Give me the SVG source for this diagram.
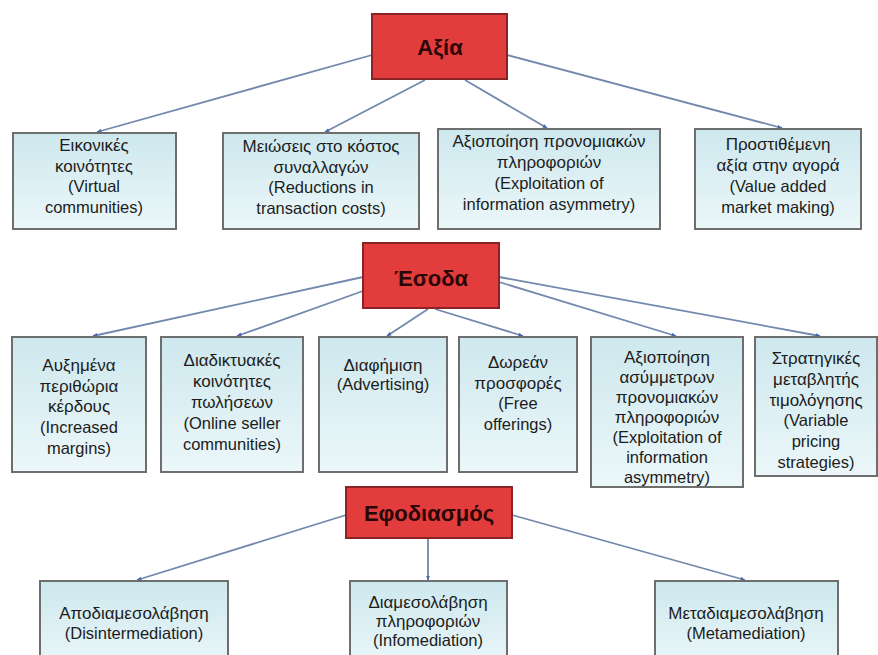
<svg xmlns="http://www.w3.org/2000/svg" width="878" height="655" viewBox="0 0 878 655">
<defs>
<linearGradient id="bg" x1="0" y1="0" x2="0" y2="1">
<stop offset="0" stop-color="#cde8ee"/>
<stop offset="1" stop-color="#ecf7f9"/>
</linearGradient>
<marker id="ar" viewBox="0 0 10 10" refX="9" refY="5" markerWidth="5" markerHeight="5" orient="auto" markerUnits="userSpaceOnUse">
<path d="M0,1 L10,5 L0,9 z" fill="#4a67a8"/>
</marker>
</defs>
<style>
.box{fill:url(#bg);stroke:#6e6e6e;stroke-width:2}
.red{fill:#e23c3c;stroke:#8a2424;stroke-width:2}
.t{font-family:"Liberation Sans",Arial,sans-serif;font-size:16.5px;fill:#1c1c1c;text-anchor:middle}
.g{font-size:17px}
.h{font-family:"Liberation Sans",Arial,sans-serif;font-size:22px;font-weight:bold;fill:#2a0606;text-anchor:middle}
.c{stroke:#7388ad;stroke-width:1.8;fill:none;marker-end:url(#ar)}
</style>
<rect width="878" height="655" fill="#ffffff"/>
<g id="connectors">
<line class="c" x1="372" y1="55" x2="97" y2="132"/>
<line class="c" x1="425" y1="80" x2="325" y2="132"/>
<line class="c" x1="465" y1="80" x2="547" y2="128"/>
<line class="c" x1="507" y1="55" x2="782" y2="128"/>
<line class="c" x1="363" y1="277" x2="93" y2="336"/>
<line class="c" x1="363" y1="291" x2="237" y2="336"/>
<line class="c" x1="428" y1="309" x2="387" y2="336"/>
<line class="c" x1="435" y1="309" x2="523" y2="336"/>
<line class="c" x1="499" y1="282" x2="676" y2="336"/>
<line class="c" x1="499" y1="277" x2="820" y2="336"/>
<line class="c" x1="346" y1="515" x2="137" y2="580"/>
<line class="c" x1="428" y1="539" x2="428" y2="580"/>
<line class="c" x1="512" y1="515" x2="745" y2="580"/>
</g>
<g id="axia"><rect class="red" x="372" y="14" width="135" height="65"/><text class="h" x="440" y="55">Αξία</text></g>
<g id="esoda"><rect class="red" x="363" y="243" width="136" height="65"/><text class="h" x="431" y="286">Έσοδα</text></g>
<g id="efodiasmos"><rect class="red" x="346" y="487" width="166" height="51"/><text class="h" x="429" y="521">Εφοδιασμός</text></g>

<g id="v1"><rect class="box" x="13" y="133" width="163" height="96"/>
<text class="t" x="94" y="151"><tspan class="g" x="94">Εικονικές</tspan><tspan class="g" x="94" dy="20.5">κοινότητες</tspan><tspan x="94" dy="20.5">(Virtual</tspan><tspan x="94" dy="20.5">communities)</tspan></text></g>
<g id="v2"><rect class="box" x="223" y="133" width="196" height="96"/>
<text class="t" x="321" y="152"><tspan class="g" x="321">Μειώσεις στο κόστος</tspan><tspan class="g" x="321" dy="20.5">συναλλαγών</tspan><tspan x="321" dy="20.5">(Reductions in</tspan><tspan x="321" dy="20.5">transaction costs)</tspan></text></g>
<g id="v3"><rect class="box" x="438" y="129" width="222" height="100"/>
<text class="t" x="549" y="147"><tspan class="g" x="549">Αξιοποίηση προνομιακών</tspan><tspan class="g" x="549" dy="21">πληροφοριών</tspan><tspan x="549" dy="21">(Exploitation of</tspan><tspan x="549" dy="21">information asymmetry)</tspan></text></g>
<g id="v4"><rect class="box" x="695" y="129" width="166" height="100"/>
<text class="t" x="778" y="150"><tspan class="g" x="778">Προστιθέμενη</tspan><tspan class="g" x="778" dy="21">αξία στην αγορά</tspan><tspan x="778" dy="21">(Value added</tspan><tspan x="778" dy="21">market making)</tspan></text></g>

<g id="r1"><rect class="box" x="12" y="337" width="134" height="135"/>
<text class="t" x="79" y="371"><tspan class="g" x="79">Αυξημένα</tspan><tspan class="g" x="79" dy="20.7">περιθώρια</tspan><tspan class="g" x="79" dy="20.7">κέρδους</tspan><tspan x="79" dy="20.7">(Increased</tspan><tspan x="79" dy="20.7">margins)</tspan></text></g>
<g id="r2"><rect class="box" x="161" y="337" width="142" height="135"/>
<text class="t" x="232" y="366"><tspan class="g" x="232">Διαδικτυακές</tspan><tspan class="g" x="232" dy="21">κοινότητες</tspan><tspan class="g" x="232" dy="21">πωλήσεων</tspan><tspan x="232" dy="21">(Online seller</tspan><tspan x="232" dy="21">communities)</tspan></text></g>
<g id="r3"><rect class="box" x="319" y="337" width="128" height="135"/>
<text class="t" x="383" y="371"><tspan class="g" x="383">Διαφήμιση</tspan><tspan x="383" dy="19">(Advertising)</tspan></text></g>
<g id="r4"><rect class="box" x="459" y="337" width="118" height="135"/>
<text class="t" x="518" y="368"><tspan class="g" x="518">Δωρεάν</tspan><tspan class="g" x="518" dy="20.7">προσφορές</tspan><tspan x="518" dy="20.7">(Free</tspan><tspan x="518" dy="20.7">offerings)</tspan></text></g>
<g id="r5"><rect class="box" x="591" y="337" width="152" height="150"/>
<text class="t" x="667" y="363"><tspan class="g" x="667">Αξιοποίηση</tspan><tspan class="g" x="667" dy="20">ασύμμετρων</tspan><tspan class="g" x="667" dy="20">προνομιακών</tspan><tspan class="g" x="667" dy="20">πληροφοριών</tspan><tspan x="667" dy="20">(Exploitation of</tspan><tspan x="667" dy="20">information</tspan><tspan x="667" dy="20">asymmetry)</tspan></text></g>
<g id="r6"><rect class="box" x="755" y="337" width="122" height="139"/>
<text class="t" x="816" y="364"><tspan class="g" x="816">Στρατηγικές</tspan><tspan class="g" x="816" dy="20.8">μεταβλητής</tspan><tspan class="g" x="816" dy="20.8">τιμολόγησης</tspan><tspan x="816" dy="20.8">(Variable</tspan><tspan x="816" dy="20.8">pricing</tspan><tspan x="816" dy="20.8">strategies)</tspan></text></g>

<g id="s1"><rect class="box" x="40" y="581" width="188" height="90"/>
<text class="t" x="134" y="619"><tspan class="g" x="134">Αποδιαμεσολάβηση</tspan><tspan x="134" dy="20">(Disintermediation)</tspan></text></g>
<g id="s2"><rect class="box" x="350" y="581" width="157" height="90"/>
<text class="t" x="428" y="608"><tspan class="g" x="428">Διαμεσολάβηση</tspan><tspan class="g" x="428" dy="19">πληροφοριών</tspan><tspan x="428" dy="19">(Infomediation)</tspan></text></g>
<g id="s3"><rect class="box" x="655" y="581" width="183" height="90"/>
<text class="t" x="746" y="619"><tspan class="g" x="746">Μεταδιαμεσολάβηση</tspan><tspan x="746" dy="20">(Metamediation)</tspan></text></g>
</svg>
